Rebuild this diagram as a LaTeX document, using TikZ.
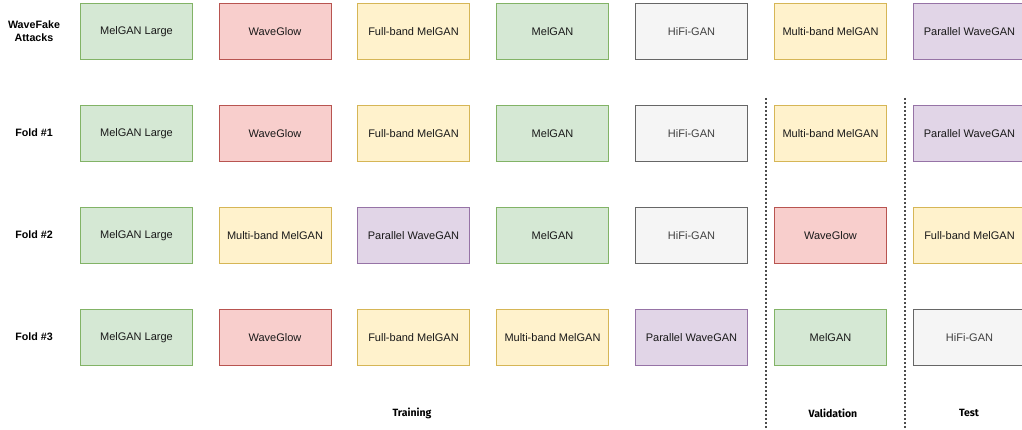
\documentclass[tikz,border=0pt]{standalone}
\usepackage{fontspec}
\setmainfont{Liberation Sans}
\newfontfamily\labfont{Fira Sans}
\definecolor{gF}{HTML}{D5E8D4}\definecolor{gD}{HTML}{82B366}
\definecolor{rF}{HTML}{F8CECC}\definecolor{rD}{HTML}{B85450}
\definecolor{yF}{HTML}{FFF2CC}\definecolor{yD}{HTML}{D6B656}
\definecolor{pF}{HTML}{E1D5E7}\definecolor{pD}{HTML}{9673A6}
\definecolor{kF}{HTML}{F5F5F5}\definecolor{kD}{HTML}{666666}
\tikzset{
  box/.style={draw, line width=1pt, minimum width=112pt, minimum height=56pt, inner sep=0pt, anchor=north west, font=\fontsize{11}{12}\selectfont, text=black!90},
  mg/.style={box, fill=gF, draw=gD},
  wg/.style={box, fill=rF, draw=rD},
  yb/.style={box, fill=yF, draw=yD},
  pw/.style={box, fill=pF, draw=pD},
  hf/.style={box, fill=kF, draw=kD, text=black!75},
  rowlab/.style={font=\bfseries\fontsize{10.7}{13}\selectfont, align=center},
  seclab/.style={font=\labfont\bfseries\fontsize{10.5}{12}\selectfont},
  sep/.style={draw=black!70, line width=1.3pt, dash pattern=on 2pt off 2pt}
}
\begin{document}
\begin{tikzpicture}[x=1pt,y=-1pt]
\useasboundingbox (0,0) rectangle (1022,430);
% row 0
\node[rowlab] (l0) at (34,31) {WaveFake\\Attacks};
\node[mg] (a1) at (80,3) {MelGAN Large};
\node[wg] (a2) at (218.5,3) {WaveGlow};
\node[yb] (a3) at (357,3) {Full-band MelGAN};
\node[mg] (a4) at (496,3) {MelGAN};
\node[hf] (a5) at (635,3) {HiFi-GAN};
\node[yb] (a6) at (774,3) {Multi-band MelGAN};
\node[pw] (a7) at (913,3) {Parallel WaveGAN};
% row 1
\node[rowlab] (l1) at (34,133) {Fold \#1};
\node[mg] (b1) at (80,105) {MelGAN Large};
\node[wg] (b2) at (218.5,105) {WaveGlow};
\node[yb] (b3) at (357,105) {Full-band MelGAN};
\node[mg] (b4) at (496,105) {MelGAN};
\node[hf] (b5) at (635,105) {HiFi-GAN};
\node[yb] (b6) at (774,105) {Multi-band MelGAN};
\node[pw] (b7) at (913,105) {Parallel WaveGAN};
% row 2
\node[rowlab] (l2) at (34,235) {Fold \#2};
\node[mg] (c1) at (80,207) {MelGAN Large};
\node[yb] (c2) at (218.5,207) {Multi-band MelGAN};
\node[pw] (c3) at (357,207) {Parallel WaveGAN};
\node[mg] (c4) at (496,207) {MelGAN};
\node[hf] (c5) at (635,207) {HiFi-GAN};
\node[wg] (c6) at (774,207) {WaveGlow};
\node[yb] (c7) at (913,207) {Full-band MelGAN};
% row 3
\node[rowlab] (l3) at (34,337) {Fold \#3};
\node[mg] (d1) at (80,309) {MelGAN Large};
\node[wg] (d2) at (218.5,309) {WaveGlow};
\node[yb] (d3) at (357,309) {Full-band MelGAN};
\node[yb] (d4) at (496,309) {Multi-band MelGAN};
\node[pw] (d5) at (635,309) {Parallel WaveGAN};
\node[mg] (d6) at (774,309) {MelGAN};
\node[hf] (d7) at (913,309) {HiFi-GAN};
% separators
\coordinate (s1t) at (766,98); \coordinate (s1b) at (766,430);
\coordinate (s2t) at (905,98); \coordinate (s2b) at (905,430);
\draw[sep] (s1t) -- (s1b);
\draw[sep] (s2t) -- (s2b);
% section labels
\node[seclab] (tr) at (412,413) {Training};
\node[seclab] (va) at (833,413) {Validation};
\node[seclab] (te) at (969,413) {Test};
\end{tikzpicture}
\end{document}
